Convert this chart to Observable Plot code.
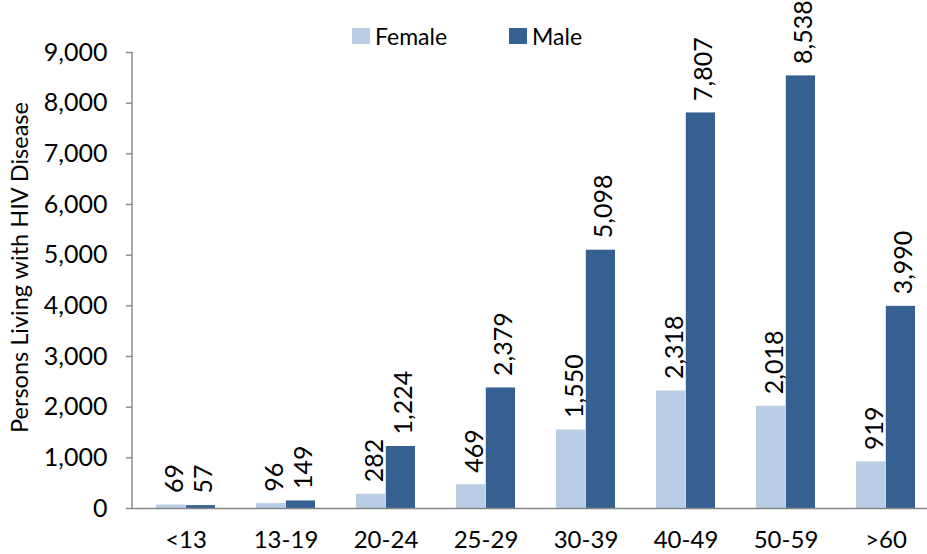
<!DOCTYPE html>
<html>
<head>
<meta charset="utf-8">
<script src="https://cdn.jsdelivr.net/npm/d3@7"></script>
<script src="https://cdn.jsdelivr.net/npm/@observablehq/plot@0.6"></script>
<style>
  body { margin: 0; background: white; }
  #wrap { position: relative; width: 927px; height: 554px; font-family: Lato, sans-serif; overflow: hidden; }
  #legend { position: absolute; top: 22px; left: 352px; display: flex; align-items: center; font-size: 23px; color: #000; }
  .sw { display: inline-block; width: 18px; height: 16px; margin-right: 5px; }
  .item { display: flex; align-items: center; margin-right: 62px; }
</style>
</head>
<body>
<div id="wrap"><div id="legend"></div></div>
<script>
const ages = ["<13", "13-19", "20-24", "25-29", "30-39", "40-49", "50-59", ">60"];
const female = [69, 96, 282, 469, 1550, 2318, 2018, 919];
const male = [57, 149, 1224, 2379, 5098, 7807, 8538, 3990];
const seriesNames = ["Female", "Male"];
const seriesColors = ["#B9CDE5", "#376092"];
const yTicks = [0, 1000, 2000, 3000, 4000, 5000, 6000, 7000, 8000, 9000];
const yLabel = "Persons Living with HIV Disease";

const rows = [];
ages.forEach((a, i) => {
  rows.push({age: a, sex: "Female", value: female[i]});
  rows.push({age: a, sex: "Male", value: male[i]});
});
const fRows = rows.filter(d => d.sex === "Female");
const mRows = rows.filter(d => d.sex === "Male");
const fmt = d3.format(",");
const half = 29.8;

const leftLine = (index, scales, values, dims) => {
  const l = document.createElementNS("http://www.w3.org/2000/svg", "line");
  l.setAttribute("x1", dims.marginLeft); l.setAttribute("x2", dims.marginLeft);
  l.setAttribute("y1", dims.marginTop); l.setAttribute("y2", dims.height - dims.marginBottom);
  l.setAttribute("stroke", "#868686"); l.setAttribute("stroke-width", 1.4);
  return l;
};

const chart = Plot.plot({
  width: 927,
  height: 554,
  marginTop: 52,
  marginBottom: 46,
  marginLeft: 132,
  marginRight: 0,
  style: {fontFamily: "Lato, sans-serif", fontSize: "25px", color: "#000", overflow: "visible", background: "white"},
  x: {domain: ages, range: [132, 939], paddingInner: 0.41, paddingOuter: 0.205, label: null},
  y: {domain: [0, 9000], label: null},
  color: {domain: seriesNames, range: seriesColors},
  marks: [
    Plot.barY(fRows, {x: "age", y: "value", fill: seriesColors[0], insetRight: half}),
    Plot.barY(mRows, {x: "age", y: "value", fill: seriesColors[1], insetLeft: half}),
    Plot.text(fRows, {x: "age", y: "value", text: d => fmt(d.value), rotate: -90, textAnchor: "start", dx: -11, dy: -12, fill: "#000"}),
    Plot.text(mRows, {x: "age", y: "value", text: d => fmt(d.value), rotate: -90, textAnchor: "start", dx: 18, dy: -12, fill: "#000"}),
    Plot.ruleY([0], {stroke: "#868686", strokeWidth: 1.4}),
    leftLine,
    Plot.axisY({ticks: yTicks, tickFormat: fmt, tickSize: 6, tickPadding: 19, stroke: "#868686", strokeWidth: 1.4, label: null}),
    Plot.text([yLabel], {frameAnchor: "left", textAnchor: "middle", dx: -112, dy: -13, rotate: -90, fontSize: 23.5, fill: "#000"}),
    Plot.axisX({tickSize: 0, tickPadding: 22, fontSize: 24, label: null})
  ]
});
document.getElementById("wrap").appendChild(chart);

const lg = document.getElementById("legend");
seriesNames.forEach((n, i) => {
  const it = document.createElement("div");
  it.className = "item";
  const sw = document.createElement("span");
  sw.className = "sw";
  sw.style.background = seriesColors[i];
  it.appendChild(sw);
  it.appendChild(document.createTextNode(n));
  lg.appendChild(it);
});
</script>
</body>
</html>
